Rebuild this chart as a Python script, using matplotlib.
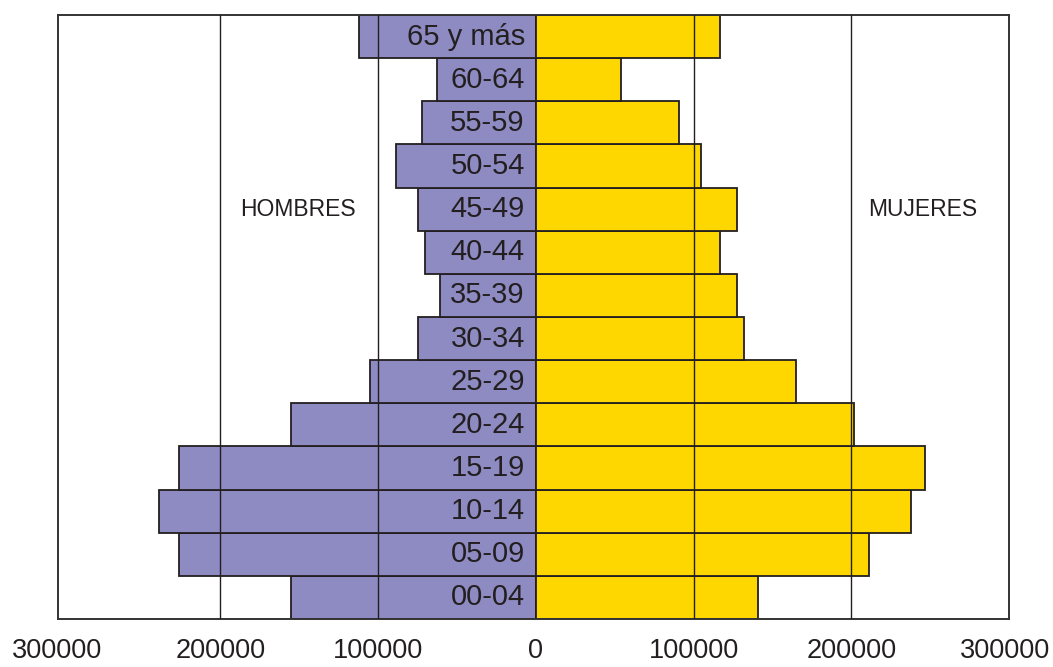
import matplotlib
matplotlib.use("Agg")
import matplotlib.pyplot as plt
import matplotlib.transforms as mtransforms
import numpy as np

# Age groups, from youngest (bottom) to oldest (top)
grupos = ["00-04", "05-09", "10-14", "15-19", "20-24", "25-29", "30-34",
          "35-39", "40-44", "45-49", "50-54", "55-59", "60-64", "65 y más"]

# Population by sex
hombres = [155000, 226000, 239000, 226000, 155000, 105000, 75000,
           61000, 70000, 75000, 89000, 72000, 63000, 112000]
mujeres = [141000, 211000, 238000, 246500, 202000, 165000, 132000,
           127500, 117000, 127500, 105000, 91000, 54000, 117000]

# Axis ticks
ticks = [-300000, -200000, -100000, 0, 100000, 200000, 300000]
tick_labels = ["300000", "200000", "100000", "0", "100000", "200000", "300000"]
grid_vals = [-200000, -100000, 100000, 200000]

plt.rcParams["font.family"] = ["Liberation Sans", "DejaVu Sans"]
ink = "#231f20"

fig = plt.figure(figsize=(10.53, 6.67), dpi=100)
ax = fig.add_axes([58 / 1053, 1 - 619 / 667, 951 / 1053, 604 / 667])

y = np.arange(len(grupos))
ax.barh(y, [-v for v in hombres], height=1.0, color="#8e8bc3",
        edgecolor=ink, linewidth=1.3, zorder=2)
ax.barh(y, mujeres, height=1.0, color="#ffd700",
        edgecolor=ink, linewidth=1.3, zorder=2)

for g in grid_vals:
    ax.axvline(g, color=ink, linewidth=1.0, zorder=3)

for yi, lab in zip(y, grupos):
    ax.annotate(lab, xy=(0, yi), xytext=(-8, 0), textcoords="offset points",
                ha="right", va="center", fontsize=21, color=ink, zorder=4)

ax.text(-151000, 9, "HOMBRES", ha="center", va="center", fontsize=16.5, color=ink)
ax.text(245000, 9, "MUJERES", ha="center", va="center", fontsize=16.5, color=ink)

ax.set_xlim(-303000, 300000)
ax.set_ylim(-0.5, len(grupos) - 0.5)
ax.set_yticks([])
ax.set_xticks(ticks)
ax.set_xticklabels(tick_labels, fontsize=19.5, color=ink)
ax.tick_params(axis="x", which="major", length=0, pad=14)
ax.set_xticks(grid_vals, minor=True)
ax.tick_params(axis="x", which="minor", length=7, width=1.0, color=ink, direction="out")

# keep the outermost labels inside the figure
labels = ax.get_xticklabels()
labels[-1].set_transform(labels[-1].get_transform() +
                         mtransforms.ScaledTranslation(-4 / 100, 0, fig.dpi_scale_trans))
labels[0].set_transform(labels[0].get_transform() +
                        mtransforms.ScaledTranslation(-6 / 100, 0, fig.dpi_scale_trans))

for s in ax.spines.values():
    s.set_color("#333333")
    s.set_linewidth(1.4)

fig.savefig("out.png", dpi=100)
